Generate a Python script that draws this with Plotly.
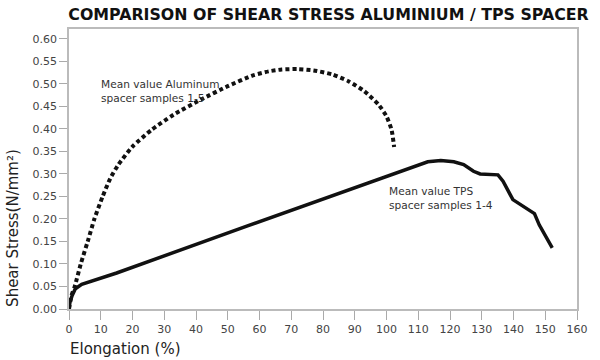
import plotly.graph_objects as go

# Aluminium spacer (dotted), mean of samples 1-5
al_x = [0, 0.8, 1.8, 3.7, 5.9, 8, 10.6, 13, 15.5, 19.9, 26, 33, 41.5, 50, 58, 63, 67, 72, 77, 83, 88, 93, 97.5, 100, 101.6, 102.4]
al_y = [0, 0.03, 0.05, 0.10, 0.15, 0.20, 0.25, 0.29, 0.32, 0.36, 0.398, 0.432, 0.465, 0.495, 0.519, 0.528, 0.532, 0.533, 0.530, 0.521, 0.506, 0.484, 0.454, 0.428, 0.398, 0.36]

# TPS spacer (solid), mean of samples 1-4
tps_x = [0, 0.3, 1, 2, 4, 8, 15, 56, 96.4, 106.8, 113, 117.1, 121.2, 124.3, 127.4, 129.5, 135.1, 136.7, 139.8, 146.6, 148.1, 152.2]
tps_y = [0, 0.015, 0.03, 0.045, 0.055, 0.064, 0.08, 0.184, 0.286, 0.313, 0.327, 0.330, 0.327, 0.321, 0.306, 0.300, 0.298, 0.284, 0.243, 0.212, 0.187, 0.136]

x_ticks = list(range(0, 161, 10))
y_ticks = [0.00, 0.05, 0.10, 0.15, 0.20, 0.25, 0.30, 0.35, 0.40, 0.45, 0.50, 0.55, 0.60]

title_text = "COMPARISON OF SHEAR STRESS ALUMINIUM / TPS SPACER"
al_label = "Mean value Aluminum<br>spacer samples 1-5"
tps_label = "Mean value TPS<br>spacer samples 1-4"
x_title = "Elongation (%)"
y_title = "Shear Stress(N/mm²)"

FONT = "DejaVu Sans"

fig = go.Figure()
fig.add_trace(go.Scatter(x=al_x, y=al_y, mode="lines", line_shape="spline",
                         line=dict(color="#111111", width=4, dash="4px,3px", smoothing=0.6),
                         showlegend=False, hoverinfo="skip"))
fig.add_trace(go.Scatter(x=tps_x, y=tps_y, mode="lines",
                         line=dict(color="#111111", width=3.5),
                         showlegend=False, hoverinfo="skip"))

fig.update_layout(
    width=600, height=360,
    margin=dict(l=69, r=15, t=29, b=51),
    paper_bgcolor="white", plot_bgcolor="white",
    font=dict(family=FONT, color="#333333", size=11),
    title=dict(text="<b>" + title_text + "</b>", x=328.5 / 600, xanchor="center",
               xref="container", y=1 - 14.5 / 360, yanchor="middle", yref="container",
               font=dict(family=FONT, size=15.8, color="#111111")),
    xaxis=dict(range=[0, 160], tickvals=x_ticks, ticktext=[str(v) for v in x_ticks],
               showline=True, linecolor="#bbbbbb", linewidth=1.5, mirror=True,
               ticks="outside", ticklen=9, tickcolor="#aaaaaa", tickwidth=1.2,
               showgrid=False, zeroline=False,
               tickfont=dict(family=FONT, size=11, color="#444444")),
    yaxis=dict(range=[0, 0.622], tickvals=y_ticks, ticktext=[f"{v:.2f}" for v in y_ticks],
               showline=True, linecolor="#bbbbbb", linewidth=1.5, mirror=True,
               ticks="outside", ticklen=8, tickcolor="#aaaaaa", tickwidth=1.2,
               showgrid=False, zeroline=False,
               tickfont=dict(family=FONT, size=11, color="#444444")),
    annotations=[
        dict(text=al_label, x=9.3, y=0.4845, xref="x", yref="y", xanchor="left",
             yanchor="middle", align="left", showarrow=False,
             font=dict(family=FONT, size=10.6, color="#333333")),
        dict(text=tps_label, x=100, y=0.2475, xref="x", yref="y", xanchor="left",
             yanchor="middle", align="left", showarrow=False,
             font=dict(family=FONT, size=10.6, color="#333333")),
        dict(text=x_title, x=(68 - 69) / 516, y=(309 - 349) / 280, xref="paper", yref="paper",
             xanchor="left", yanchor="middle", showarrow=False,
             font=dict(family=FONT, size=15, color="#222222")),
        dict(text=y_title, x=(12 - 69) / 516, y=0, xref="paper", yref="paper",
             textangle=-90, xanchor="center", yanchor="bottom", showarrow=False,
             font=dict(family=FONT, size=15, color="#222222")),
    ],
)

fig.write_html("out.html", config={"displayModeBar": False},
               post_script="document.body.style.margin='0';")
